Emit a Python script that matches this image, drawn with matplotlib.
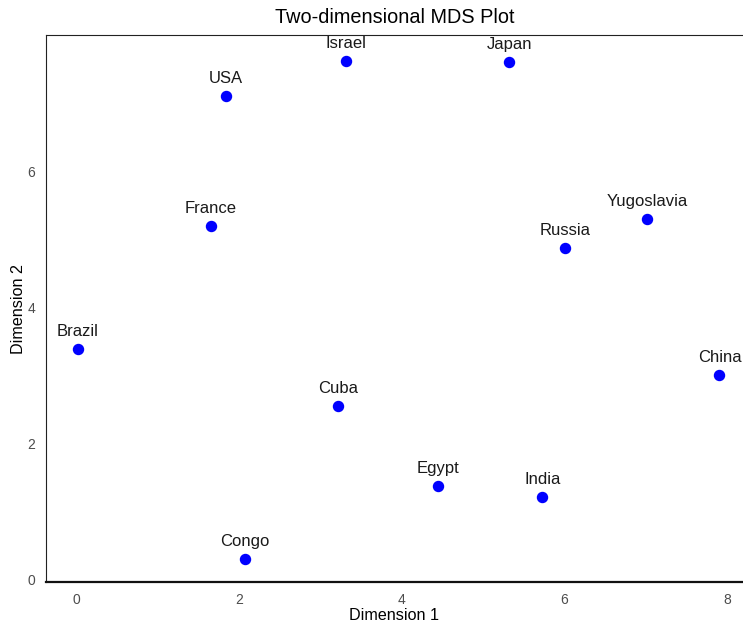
import matplotlib
matplotlib.use("Agg")
import matplotlib.pyplot as plt

plt.rcParams["font.family"] = ["Liberation Sans", "DejaVu Sans"]

countries = ["Brazil", "USA", "France", "Israel", "Japan", "Cuba",
             "Congo", "Egypt", "India", "Russia", "Yugoslavia", "China"]
dim1 = [0.01, 1.83, 1.65, 3.31, 5.32, 3.21, 2.07, 4.45, 5.73, 6.01, 7.02, 7.91]
dim2 = [3.38, 7.10, 5.19, 7.62, 7.60, 2.54, 0.29, 1.37, 1.21, 4.87, 5.29, 3.00]

fig = plt.figure(figsize=(7.43, 6.26), dpi=100)
ax = fig.add_axes([0.0619, 0.0703, 0.9381, 0.8737])

ax.scatter(dim1, dim2, s=52, color="#0000ff", zorder=3, clip_on=False)
for name, x, y in zip(countries, dim1, dim2):
    ax.annotate(name, (x, y), xytext=(0, 9.5), textcoords="offset points",
                ha="center", va="baseline", fontsize=12, color="#1a1a1a",
                annotation_clip=False)

ax.set_xlim(-0.38, 8.2)
ax.set_ylim(-0.044, 8.0)
ax.set_xticks([0, 2, 4, 6, 8])
ax.set_yticks([0, 2, 4, 6])
ax.tick_params(length=0, labelsize=10, labelcolor="#4d4d4d")
ax.tick_params(axis="x", pad=8)
ax.tick_params(axis="y", pad=8)

for side in ["top", "left"]:
    ax.spines[side].set_linewidth(0.8)
    ax.spines[side].set_color("#222222")
ax.spines["bottom"].set_linewidth(1.6)
ax.spines["bottom"].set_color("#111111")
ax.spines["right"].set_visible(False)

ax.set_title("Two-dimensional MDS Plot", fontsize=14.3, pad=9)
ax.set_xlabel("Dimension 1", fontsize=11.6, labelpad=1)
ax.set_ylabel("Dimension 2", fontsize=11.6, labelpad=1)

fig.savefig("out.png", dpi=100)
